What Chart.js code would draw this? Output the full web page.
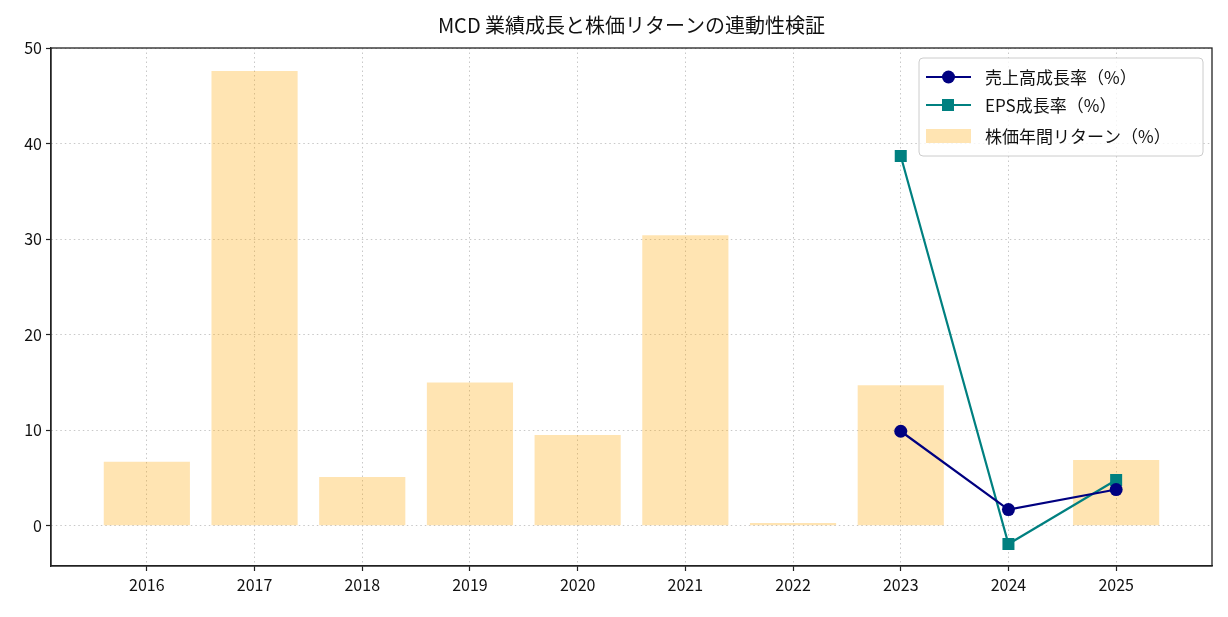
<!DOCTYPE html>
<html>
<head>
<meta charset="utf-8">
<script src="https://cdn.jsdelivr.net/npm/chart.js@4.4.1/dist/chart.umd.min.js"></script>
<style>
html, body { margin: 0; padding: 0; background: #fff; }
</style>
</head>
<body>
<canvas id="myChart" width="1228" height="617"></canvas>
<script>
var years = ['2016', '2017', '2018', '2019', '2020', '2021', '2022', '2023', '2024', '2025'];
var salesGrowth = [null, null, null, null, null, null, null, 9.9, 1.7, 3.8];
var epsGrowth = [null, null, null, null, null, null, null, 38.7, -1.9, 4.8];
var priceReturn = [6.7, 47.6, 5.1, 15.0, 9.5, 30.4, 0.3, 14.7, null, 6.9];
var yTicks = [0, 10, 20, 30, 40, 50];

var chartTitle = 'MCD 業績成長と株価リターンの連動性検証';
var fontFamily = "'Noto Sans CJK JP', 'Noto Sans', sans-serif";

function toPoints(arr) {
    var pts = [];
    for (var i = 0; i < arr.length; i++) {
        pts.push({ x: i, y: arr[i] });
    }
    return pts;
}

Chart.defaults.font.family = fontFamily;
Chart.defaults.color = '#222';

// 枠線・タイトル・凡例を自前で描く
var decorPlugin = {
    id: 'decor',
    afterDraw: function(chart) {
        var ctx = chart.ctx;
        var a = chart.chartArea;
        ctx.save();
        ctx.strokeStyle = '#222';
        ctx.lineWidth = 1.3;
        ctx.strokeRect(a.left, a.top, a.right - a.left, a.bottom - a.top);

        ctx.fillStyle = '#111';
        ctx.font = '20px ' + fontFamily;
        ctx.textAlign = 'center';
        ctx.textBaseline = 'middle';
        ctx.fillText(chartTitle, (a.left + a.right) / 2, 25);

        // legend
        var bx = 919, by = 58, bw = 284, bh = 98;
        ctx.fillStyle = 'rgba(255,255,255,0.8)';
        ctx.strokeStyle = '#ccc';
        ctx.lineWidth = 1;
        ctx.beginPath();
        ctx.roundRect(bx, by, bw, bh, 4);
        ctx.fill();
        ctx.stroke();

        ctx.font = '17px ' + fontFamily;
        ctx.textAlign = 'left';
        var ds = chart.data.datasets;
        var rows = [77, 105, 136];
        for (var i = 0; i < ds.length; i++) {
            var y = rows[i];
            var d = ds[i];
            if (d.type === 'line') {
                ctx.strokeStyle = d.borderColor;
                ctx.lineWidth = 2.2;
                ctx.beginPath();
                ctx.moveTo(926, y);
                ctx.lineTo(971, y);
                ctx.stroke();
                ctx.fillStyle = d.borderColor;
                if (d.pointStyle === 'rect') {
                    ctx.fillRect(942, y - 6, 12, 12);
                } else {
                    ctx.beginPath();
                    ctx.arc(948.5, y, 6.5, 0, Math.PI * 2);
                    ctx.fill();
                }
            } else {
                ctx.fillStyle = d.backgroundColor;
                ctx.fillRect(926, y - 7, 45, 14);
            }
            ctx.fillStyle = '#111';
            ctx.fillText(d.label, 985, y + 1);
        }
        ctx.restore();
    }
};

var ctx = document.getElementById('myChart').getContext('2d');
window.myChart = new Chart(ctx, {
    data: {
        datasets: [{
            type: 'line',
            label: '売上高成長率（%）',
            data: toPoints(salesGrowth),
            borderColor: '#000080',
            backgroundColor: '#000080',
            borderWidth: 2.2,
            pointStyle: 'circle',
            pointRadius: 6.5,
            pointBorderWidth: 0,
            order: 1
        }, {
            type: 'line',
            label: 'EPS成長率（%）',
            data: toPoints(epsGrowth),
            borderColor: '#008080',
            backgroundColor: '#008080',
            borderWidth: 2.2,
            pointStyle: 'rect',
            pointRadius: 8.5,
            pointBorderWidth: 0,
            order: 2
        }, {
            type: 'bar',
            label: '株価年間リターン（%）',
            data: toPoints(priceReturn),
            backgroundColor: 'rgba(255,165,0,0.3)',
            barPercentage: 0.8,
            categoryPercentage: 1.0,
            order: 3
        }]
    },
    options: {
        responsive: false,
        animation: false,
        layout: { padding: { top: 48, right: 16, left: 0, bottom: 0 } },
        plugins: {
            legend: { display: false },
            title: { display: false },
            tooltip: { enabled: false }
        },
        scales: {
            x: {
                type: 'linear',
                offset: false,
                min: -0.89,
                max: 9.89,
                afterBuildTicks: function(scale) {
                    scale.ticks = years.map(function(y, i) { return { value: i }; });
                },
                afterFit: function(scale) { scale.height = 51; },
                ticks: {
                    callback: function(v) { return years[v]; },
                    font: { size: 16 },
                    color: '#111',
                    padding: 4,
                    maxRotation: 0
                },
                grid: {
                    offset: false,
                    color: '#c8c8c8',
                    tickColor: '#222',
                    tickLength: 5,
                    tickBorderDash: [],
                    tickWidth: 1.2
                },
                border: { display: true, color: '#222', width: 1.3, dash: [1.5, 3] }
            },
            y: {
                min: -4.2,
                max: 50,
                afterBuildTicks: function(scale) {
                    scale.ticks = yTicks.map(function(v) { return { value: v }; });
                },
                afterFit: function(scale) { scale.width = 51; },
                ticks: {
                    font: { size: 16 },
                    color: '#111',
                    padding: 4
                },
                grid: {
                    color: '#c8c8c8',
                    tickColor: '#222',
                    tickLength: 5,
                    tickBorderDash: [],
                    tickWidth: 1.2
                },
                border: { display: true, color: '#222', width: 1.3, dash: [1.5, 3] }
            }
        }
    },
    plugins: [decorPlugin]
});
</script>
</body>
</html>
